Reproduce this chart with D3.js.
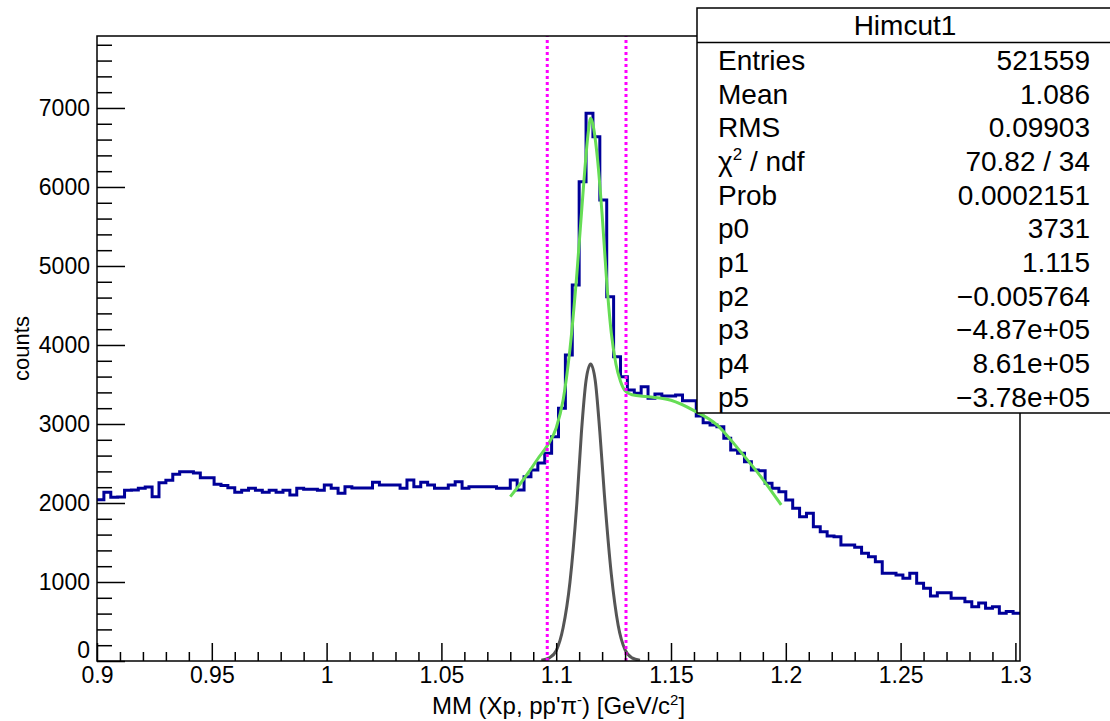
<!DOCTYPE html>
<html>
<head>
<meta charset="utf-8">
<script src="https://cdn.jsdelivr.net/npm/d3@7"></script>
<style>
  body { margin: 0; background: #fff; }
  svg { display: block; font-family: "Liberation Sans", Arial, sans-serif; }
</style>
</head>
<body>
<svg id="place" width="1110" height="721"></svg>
<script>
// histogram definition: 134 bins of 0.003 starting at 0.9
var binLow = 0.9;
var binWidth = 0.003;
var counts = [
  2040, 2135, 2072, 2075, 2160, 2165, 2186, 2203, 2080, 2257,
  2287, 2363, 2397, 2397, 2380, 2321, 2321, 2237, 2220, 2194,
  2135, 2160, 2186, 2160, 2135, 2160, 2135, 2160, 2101, 2186,
  2175, 2175, 2160, 2228, 2186, 2122, 2207, 2190, 2190, 2190,
  2262, 2228, 2228, 2228, 2186, 2291, 2207, 2262, 2228, 2186,
  2186, 2228, 2270, 2186, 2207, 2207, 2207, 2207, 2186, 2186,
  2291, 2165, 2333, 2418, 2506, 2630, 2839, 3198, 3873, 4759,
  6067, 6932, 6637, 5835, 4612, 3852, 3599, 3430, 3388, 3472,
  3325, 3380, 3354, 3354, 3367, 3295, 3295, 3101, 3017, 2987,
  2966, 2819, 2671, 2629, 2523, 2418, 2409, 2249, 2186, 2143,
  2038, 1933, 1827, 1869, 1700, 1637, 1582, 1574, 1468, 1468,
  1440, 1363, 1321, 1257, 1110, 1110, 1089, 1046, 1110, 984,
  920, 823, 865, 865, 794, 794, 751, 687, 734, 667,
  687, 604, 625, 604
];

// total fit (green)
var fitX = [1.080, 1.084, 1.088, 1.092, 1.096, 1.100, 1.103, 1.106, 1.109, 1.112,
            1.114, 1.115, 1.116, 1.118, 1.120, 1.122, 1.124, 1.126, 1.128, 1.130,
            1.133, 1.140, 1.150, 1.160, 1.170, 1.180, 1.190, 1.198];
var fitY = [2080, 2230, 2390, 2560, 2720, 2950, 3300, 3950, 4900, 6050,
            6700, 6870, 6790, 6350, 5650, 4800, 4150, 3760, 3540, 3420,
            3370, 3345, 3300, 3170, 2990, 2660, 2300, 1975];

// signal gaussian (grey)
var sigX = [1.0935, 1.097, 1.100, 1.103, 1.106, 1.109, 1.111, 1.113, 1.115,
            1.117, 1.119, 1.121, 1.124, 1.127, 1.130, 1.133, 1.1365];
var sigY = [10, 40, 130, 420, 1000, 2000, 2900, 3550, 3760,
            3550, 2900, 2100, 1100, 450, 140, 40, 10];

// cut lines (magenta)
var cuts = [1.0961, 1.1304];

var xTicks = [0.9, 0.95, 1, 1.05, 1.1, 1.15, 1.2, 1.25, 1.3];
var xTickLabels = ["0.9", "0.95", "1", "1.05", "1.1", "1.15", "1.2", "1.25", "1.3"];
var yTicks = [0, 1000, 2000, 3000, 4000, 5000, 6000, 7000];

var statTitle = "Himcut1";
var statLabels = ["Entries", "Mean", "RMS", "chi2", "Prob", "p0", "p1", "p2", "p3", "p4", "p5"];
var statValues = ["521559", "1.086", "0.09903", "70.82 / 34", "0.0002151", "3731",
                  "1.115", "\u22120.005764", "\u22124.87e+05", "8.61e+05", "\u22123.78e+05"];

var L = 97, R = 1020, T = 36, B = 661;

var x = d3.scaleLinear().domain([0.9, 1.302]).range([L, R]);
var y = d3.scaleLinear().domain([0, 7911]).range([B, T]);

var svg = d3.select("#place");

svg.append("clipPath").attr("id", "frameclip")
  .append("rect").attr("x", L).attr("y", T).attr("width", R - L).attr("height", B - T);

var plot = svg.append("g").attr("clip-path", "url(#frameclip)");

// histogram outline
var pts = [];
counts.forEach(function(c, i) {
  var lo = binLow + i * binWidth;
  pts.push([x(lo), y(c)]);
  pts.push([x(lo + binWidth), y(c)]);
});
plot.append("path")
  .attr("d", d3.line()(pts))
  .attr("fill", "none")
  .attr("stroke", "#000099")
  .attr("stroke-width", 3)
  .attr("stroke-linejoin", "miter");

var smooth = d3.line()
  .x(function(d) { return x(d[0]); })
  .y(function(d) { return y(d[1]); })
  .curve(d3.curveMonotoneX);

plot.append("path")
  .attr("d", smooth(d3.zip(fitX, fitY)))
  .attr("fill", "none")
  .attr("stroke", "#66dd55")
  .attr("stroke-width", 3);

plot.append("path")
  .attr("d", smooth(d3.zip(sigX, sigY)))
  .attr("fill", "none")
  .attr("stroke", "#555555")
  .attr("stroke-width", 3);

plot.selectAll("line.cut").data(cuts).enter().append("line")
  .attr("class", "cut")
  .attr("x1", function(d) { return x(d); })
  .attr("x2", function(d) { return x(d); })
  .attr("y1", B).attr("y2", T)
  .attr("stroke", "#ff00ff")
  .attr("stroke-width", 3)
  .attr("stroke-dasharray", "3,3");

// frame
svg.append("rect")
  .attr("x", L).attr("y", T).attr("width", R - L).attr("height", B - T)
  .attr("fill", "none").attr("stroke", "#000").attr("stroke-width", 1.5);

// axes
var xMinor = [];
for (var i = 90; i <= 130; i++) { if (i % 5 !== 0) xMinor.push(i / 100); }
var yMinor = [];
for (var j = 200; j <= 7800; j += 200) { if (j % 1000 !== 0) yMinor.push(j); }

var xAxis = d3.axisBottom(x).tickValues(xTicks).tickSizeInner(-18).tickSizeOuter(0)
  .tickPadding(6)
  .tickFormat(function(d, i) { return xTickLabels[i]; });
var xAxisMinor = d3.axisBottom(x).tickValues(xMinor).tickSizeInner(-9).tickSizeOuter(0)
  .tickFormat("");
var yAxis = d3.axisLeft(y).tickValues(yTicks).tickSizeInner(-28).tickSizeOuter(0)
  .tickPadding(7)
  .tickFormat(d3.format("d"));
var yAxisMinor = d3.axisLeft(y).tickValues(yMinor).tickSizeInner(-15).tickSizeOuter(0)
  .tickFormat("");

function styleAxis(g) {
  g.select(".domain").remove();
  g.selectAll(".tick line").attr("stroke", "#000").attr("stroke-width", 1.5);
  g.selectAll(".tick text").attr("fill", "#000")
    .style("font-family", "'Liberation Sans', Arial, sans-serif")
    .style("font-size", "23px");
}

svg.append("g").attr("transform", "translate(0," + B + ")").call(xAxisMinor).call(styleAxis);
svg.append("g").attr("transform", "translate(0," + B + ")").call(xAxis).call(styleAxis);
svg.append("g").attr("transform", "translate(" + L + ",0)").call(yAxisMinor).call(styleAxis);
var yg = svg.append("g").attr("transform", "translate(" + L + ",0)").call(yAxis).call(styleAxis);
// lift the "0" so it clears the x labels
yg.selectAll(".tick text").filter(function(d) { return d === 0; }).attr("y", -11);

// axis titles
var xt = svg.append("text")
  .attr("x", (L + R) / 2).attr("y", 714)
  .attr("text-anchor", "middle")
  .style("font-size", "24px");
xt.append("tspan").text("MM (Xp, pp'\u03c0");
xt.append("tspan").attr("dy", -9).style("font-size", "15px").text("-");
xt.append("tspan").attr("dy", 9).text(") [GeV/c");
xt.append("tspan").attr("dy", -9).style("font-size", "15px").text("2");
xt.append("tspan").attr("dy", 9).text("]");

svg.append("text")
  .attr("transform", "translate(29," + ((T + B) / 2) + ")rotate(-90)")
  .attr("text-anchor", "middle")
  .style("font-size", "22px")
  .text("counts");

// stats box
var bx = 697, by = 8, bw = 420, bh = 405;
var box = svg.append("g");
box.append("rect")
  .attr("x", bx).attr("y", by).attr("width", bw).attr("height", bh)
  .attr("fill", "#fff").attr("stroke", "#000").attr("stroke-width", 1.5);
box.append("line")
  .attr("x1", bx).attr("x2", bx + bw).attr("y1", 42.5).attr("y2", 42.5)
  .attr("stroke", "#000").attr("stroke-width", 1.5);
box.append("text")
  .attr("x", 905).attr("y", 35)
  .attr("text-anchor", "middle")
  .style("font-size", "28px")
  .text(statTitle);

statLabels.forEach(function(lab, i) {
  var yy = 70 + i * 33.65;
  var t = box.append("text").attr("x", 718).attr("y", yy).style("font-size", "28px");
  if (lab === "chi2") {
    t.append("tspan").text("\u03c7");
    t.append("tspan").attr("dy", -11).style("font-size", "17px").text("2");
    t.append("tspan").attr("dy", 11).text(" / ndf");
  } else {
    t.text(lab);
  }
  box.append("text").attr("x", 1090).attr("y", yy)
    .attr("text-anchor", "end")
    .style("font-size", "28px")
    .text(statValues[i]);
});
</script>
</body>
</html>
